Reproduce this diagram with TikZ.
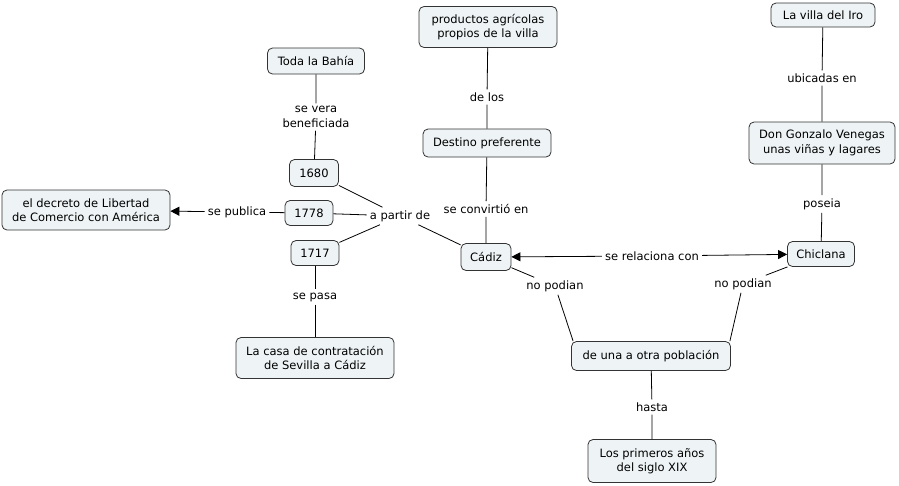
\documentclass[tikz,border=0pt]{standalone}
\usepackage{fontspec}
\setmainfont{DejaVu Sans}
\usetikzlibrary{arrows.meta}
\definecolor{boxfill}{HTML}{EEF3F5}
\definecolor{boxline}{HTML}{333333}
\begin{document}
\begin{tikzpicture}[x=1pt,y=-1pt,
  every node/.style={font=\fontsize{11.5}{14.5}\selectfont, align=center},
  concept/.style={draw=boxline, line width=0.8pt, fill=boxfill, rounded corners=5pt, inner sep=0pt},
  linklabel/.style={fill=white, inner sep=3pt},
  conn/.style={draw=black, line width=0.8pt},
  arr/.style={conn, -{Triangle[length=9pt,width=9pt]}}]
\useasboundingbox (0,0) rectangle (899,485);
% concepts
\node[concept, minimum width=138, minimum height=41] (prod) at (488,27) {productos agrícolas\\ propios de la villa};
\node[concept, minimum width=128, minimum height=28] (dest) at (487,143) {Destino preferente};
\node[concept, minimum width=104, minimum height=24] (iro) at (823,15) {La villa del Iro};
\node[concept, minimum width=146, minimum height=42] (don) at (822,143) {Don Gonzalo Venegas\\unas viñas y lagares};
\node[concept, minimum width=97, minimum height=26] (bahia) at (316,61) {Toda la Bahía};
\node[concept, minimum width=49, minimum height=27] (y1680) at (314,173) {1680};
\node[concept, minimum width=48, minimum height=25] (y1778) at (309,213) {1778};
\node[concept, minimum width=48, minimum height=25] (y1717) at (315,253) {1717};
\node[concept, minimum width=168, minimum height=40] (decreto) at (86,210) {el decreto de Libertad\\de Comercio con América};
\node[concept, minimum width=50, minimum height=27] (cadiz) at (486,257) {Cádiz};
\node[concept, minimum width=67, minimum height=25] (chic) at (821,254) {Chiclana};
\node[concept, minimum width=158, minimum height=41] (casa) at (315,358) {La casa de contratación\\de Sevilla a Cádiz};
\node[concept, minimum width=159, minimum height=29] (deuna) at (651,356) {de una a otra población};
\node[concept, minimum width=128, minimum height=43] (anos) at (652,461) {Los primeros años\\del siglo XIX};
% link labels
\node[linklabel] (lvera) at (316,117) {se vera\\beneficiada};
\node[linklabel] (ldelos) at (487,97) {de los};
\node[linklabel] (lubic) at (822,78) {ubicadas en};
\node[linklabel] (lconv) at (486,209) {se convirtió en};
\node[linklabel] (lposeia) at (822,204) {poseia};
\node[linklabel] (lpartir) at (400,216) {a partir de};
\node[linklabel] (lpubl) at (237,212) {se publica};
\node[linklabel] (lpasa) at (315,297) {se pasa};
\node[linklabel] (lrel) at (652,256) {se relaciona con};
\node[linklabel] (lnp1) at (555,286) {no podian};
\node[linklabel] (lnp2) at (743,284) {no podian};
\node[linklabel] (lhasta) at (652,407) {hasta};
\coordinate (dnw) at ([xshift=2pt]deuna.north west);
\coordinate (dne) at ([xshift=-1pt]deuna.north east);
% connectors
\draw[conn] (bahia) -- (lvera) -- (y1680);
\draw[conn] (y1680) -- (lpartir);
\draw[conn] (y1778) -- (lpartir);
\draw[conn] (y1717) -- (lpartir);
\draw[conn] (lpartir) -- (cadiz);
\draw[conn] (y1778) -- (lpubl);
\draw[arr] (lpubl) -- (decreto);
\draw[conn] (y1717) -- (lpasa) -- (casa);
\draw[conn] (cadiz) -- (lconv) -- (dest) -- (ldelos) -- (prod);
\draw[conn] (chic) -- (lposeia) -- (don) -- (lubic) -- (iro);
\draw[arr] (lrel) -- (cadiz);
\draw[arr] (lrel) -- (chic);
\draw[conn] (cadiz) -- (lnp1) -- (dnw);
\draw[conn] (chic) -- (lnp2) -- (dne);
\draw[conn] (deuna) -- (lhasta) -- (anos);
\end{tikzpicture}
\end{document}
